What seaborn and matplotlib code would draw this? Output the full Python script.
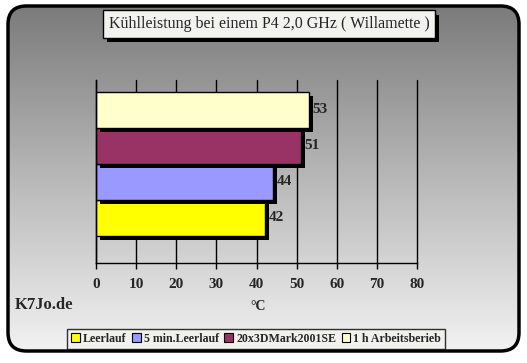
import numpy as np
import pandas as pd
import matplotlib
matplotlib.use("Agg")
import matplotlib.pyplot as plt
import seaborn as sns
from matplotlib.patches import FancyBboxPatch
import matplotlib.patheffects as pe

series = ["Leerlauf", "5 min.Leerlauf", "20x3DMark2001SE", "1 h Arbeitsberieb"]
values = [42, 44, 51, 53]
colors = ["#FFFF00", "#9999FF", "#993366", "#FFFFCC"]
xticks = [0, 10, 20, 30, 40, 50, 60, 70, 80]
title = "Kühlleistung bei einem P4 2,0 GHz ( Willamette )"

sns.set_style("white")
plt.rcParams['font.family'] = ['Liberation Serif', 'DejaVu Serif']

W, H = 527, 363
fig = plt.figure(figsize=(W/100, H/100), dpi=100)
fig.patch.set_facecolor("white")

# gradient background
bg = fig.add_axes([0, 0, 1, 1], zorder=-10)
bg.set_axis_off()
grad = np.linspace(0, 1, 256)[:, None]
cmap = matplotlib.colors.LinearSegmentedColormap.from_list("g", ["#7b7b7b", "#b8b8b8", "#f2f2f2"])
x0, x1 = 8/W, 519/W
y0, y1 = 1-351/H, 1-6/H
im = bg.imshow(grad, aspect="auto", cmap=cmap, extent=[x0, x1, y0, y1], origin="upper")
bg.set_xlim(0, 1); bg.set_ylim(0, 1)
box = FancyBboxPatch((x0, y0), x1-x0, y1-y0, boxstyle="round,pad=0,rounding_size=0.035",
                     transform=bg.transAxes, facecolor="none", edgecolor="black", linewidth=2.5,
                     mutation_aspect=W/H)
bg.add_patch(box)
im.set_clip_path(box)

df = pd.DataFrame({"series": series, "value": values})
order = series[::-1]
ax = fig.add_axes([96/W, 1-263/H, 321/W, 183/H])
ax.set_facecolor("none")
ax.set_axisbelow(True)
sns.barplot(data=df, x="value", y="series", hue="series", order=order, hue_order=series,
            palette=colors, dodge=False, width=1.0, ax=ax, legend=False,
            edgecolor="black", linewidth=1.0, saturation=1)
for p in ax.patches:
    p.set_path_effects([pe.SimplePatchShadow(offset=(3, -3), shadow_rgbFace="black", alpha=1.0), pe.Normal()])
ax.set_xlim(0, 80)
ax.set_ylim(4.25, -0.833)
ax.set_xticks(xticks)
ax.set_xticklabels([str(t) for t in xticks], fontweight="bold", fontsize=11)
ax.set_yticks([])
ax.set_ylabel("")
ax.set_xlabel("")
ax.xaxis.grid(True, color="black", linewidth=1)
ax.yaxis.grid(False)
for gl in ax.get_xgridlines():
    gl.set_clip_on(False)
for s in ["top", "right"]:
    ax.spines[s].set_visible(False)
for s in ["left", "bottom"]:
    ax.spines[s].set_color("black"); ax.spines[s].set_linewidth(1)
ax.tick_params(axis="x", bottom=True, length=4, width=1, color="black", pad=7)
for i, name in enumerate(order):
    v = values[series.index(name)]
    ax.text(v + 1.0, i, str(v), va="center", ha="left", fontweight="bold", fontsize=11)

fig.text(258/W, 1-306/H, "°C", ha="center", va="center", fontweight="bold", fontsize=10)
fig.text(15/W, 1-305/H, "K7Jo.de", ha="left", va="center", fontweight="bold", fontsize=12)

t = fig.text(269/W, 1-24/H, title, ha="center", va="center", fontsize=11.5,
             bbox=dict(boxstyle="square,pad=0.35", facecolor="#f2f2ee", edgecolor="black", linewidth=1))
t.get_bbox_patch().set_path_effects([pe.SimplePatchShadow(offset=(3, -3), shadow_rgbFace="black", alpha=1.0), pe.Normal()])

handles = [plt.Rectangle((0, 0), 1, 1, facecolor=c, edgecolor="black", linewidth=0.8) for c in colors]
leg = fig.legend(handles, series, loc="center", bbox_to_anchor=(256/W, 1-339/H), ncol=4,
                 frameon=True, fancybox=False, prop={"weight": "bold", "size": 8.6},
                 handlelength=0.75, handleheight=0.75, handletextpad=0.25, columnspacing=0.45,
                 borderpad=0.3, borderaxespad=0)
leg.get_frame().set_edgecolor("black")
leg.get_frame().set_facecolor("#f2f2ee")
leg.get_frame().set_linewidth(1)

fig.savefig("out.png", dpi=100)
